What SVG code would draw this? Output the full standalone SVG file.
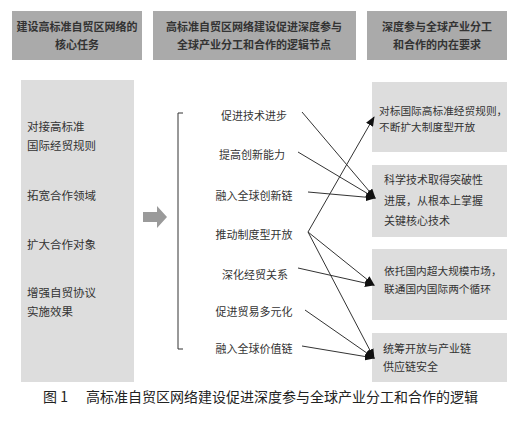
<svg xmlns="http://www.w3.org/2000/svg" width="527" height="423" viewBox="0 0 527 423">
<defs>
<style>
.hdr{fill:#aaaaaa}
.pnl{fill:#dddddd}
.ht{font-family:"Noto Sans CJK SC","Noto Sans",sans-serif;font-size:11px;font-weight:bold;fill:#333;text-anchor:middle}
.t{font-family:"Noto Sans CJK SC","Noto Sans",sans-serif;font-size:11px;fill:#333}
.mt{font-family:"Noto Sans CJK SC","Noto Sans",sans-serif;font-size:11px;fill:#333;text-anchor:middle}
.cap{font-family:"Noto Sans CJK SC","Noto Sans",sans-serif;font-size:14px;fill:#222}
.ln{stroke:#333;stroke-width:1;fill:none}
</style>
<marker id="ah" markerUnits="userSpaceOnUse" markerWidth="10" markerHeight="8" refX="9" refY="4" orient="auto">
<path d="M0,0 L10,4 L0,8 Z" fill="#111"/>
</marker>
</defs>
<rect width="527" height="423" fill="#ffffff"/>

<g id="header1"><rect class="hdr" x="12" y="11" width="130" height="49"/>
<text class="ht" x="77" y="31">建设高标准自贸区网络的</text><text class="ht" x="77" y="49">核心任务</text></g>
<g id="header2"><rect class="hdr" x="153" y="11" width="203" height="49"/>
<text class="ht" x="254" y="31">高标准自贸区网络建设促进深度参与</text><text class="ht" x="254" y="49">全球产业分工和合作的逻辑节点</text></g>
<g id="header3"><rect class="hdr" x="367" y="11" width="140" height="49"/>
<text class="ht" x="437" y="31">深度参与全球产业分工</text><text class="ht" x="437" y="49">和合作的内在要求</text></g>

<g id="left-panel"><rect class="pnl" x="21" y="80" width="113" height="302"/>
<text class="t" x="27" y="131" style="font-size:11.5px">对接高标准</text>
<text class="t" x="27" y="150" style="font-size:11.5px">国际经贸规则</text>
<text class="t" x="27" y="200" style="font-size:11.5px">拓宽合作领域</text>
<text class="t" x="27" y="249" style="font-size:11.5px">扩大合作对象</text>
<text class="t" x="27" y="297" style="font-size:11.5px">增强自贸协议</text>
<text class="t" x="27" y="316" style="font-size:11.5px">实施效果</text></g>

<g id="block-arrow"><path d="M143,212 L157,212 L157,206 L167,217 L157,228 L157,222 L143,222 Z" fill="#9a9a9a"/></g>

<g id="bracket"><path class="ln" d="M183,113 L178,113 L178,349 L183,349"/></g>

<g id="mid-nodes">
<text class="mt" x="254" y="120">促进技术进步</text>
<text class="mt" x="252" y="159">提高创新能力</text>
<text class="mt" x="254" y="200">融入全球创新链</text>
<text class="mt" x="254" y="239">推动制度型开放</text>
<text class="mt" x="255" y="279">深化经贸关系</text>
<text class="mt" x="254" y="316">促进贸易多元化</text>
<text class="mt" x="254" y="353">融入全球价值链</text>
</g>

<g id="right1"><rect class="pnl" x="372" y="82" width="135" height="70"/>
<text class="t" x="379" y="115" style="font-size:10.7px">对标国际高标准经贸规则，</text>
<text class="t" x="379" y="131" style="font-size:10.7px">不断扩大制度型开放</text></g>
<g id="right2"><rect class="pnl" x="372" y="165" width="135" height="72"/>
<text class="t" x="384" y="184">科学技术取得突破性</text>
<text class="t" x="384" y="205">进展，从根本上掌握</text>
<text class="t" x="384" y="225">关键核心技术</text></g>
<g id="right3"><rect class="pnl" x="372" y="249" width="135" height="71"/>
<text class="t" x="384" y="275" style="font-size:10.7px">依托国内超大规模市场，</text>
<text class="t" x="384" y="293" style="font-size:10.7px">联通国内国际两个循环</text></g>
<g id="right4"><rect class="pnl" x="372" y="333" width="135" height="49"/>
<text class="t" x="383" y="353">统筹开放与产业链</text>
<text class="t" x="383" y="371">供应链安全</text></g>

<g id="connectors">
<line class="ln" x1="302" y1="112" x2="375" y2="198" marker-end="url(#ah)"/>
<line class="ln" x1="298" y1="152" x2="375" y2="198" marker-end="url(#ah)"/>
<line class="ln" x1="308" y1="192" x2="375" y2="198" marker-end="url(#ah)"/>
<line class="ln" x1="308" y1="232" x2="374" y2="117" marker-end="url(#ah)"/>
<line class="ln" x1="308" y1="232" x2="374" y2="285" marker-end="url(#ah)"/>
<line class="ln" x1="308" y1="232" x2="374" y2="358" marker-end="url(#ah)"/>
<line class="ln" x1="298" y1="268" x2="374" y2="285" marker-end="url(#ah)"/>
<line class="ln" x1="305" y1="310" x2="374" y2="358" marker-end="url(#ah)"/>
<line class="ln" x1="302" y1="346" x2="374" y2="358" marker-end="url(#ah)"/>
</g>

<g id="caption">
<text class="cap" x="43" y="402">图 1</text>
<text class="cap" x="86" y="402" textLength="392">高标准自贸区网络建设促进深度参与全球产业分工和合作的逻辑</text>
</g>
</svg>
